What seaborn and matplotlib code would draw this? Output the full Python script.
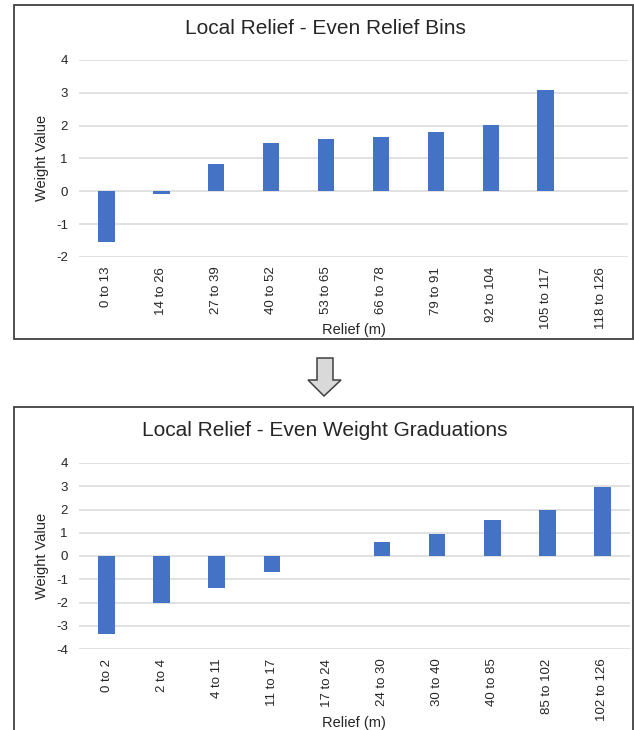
import numpy as np
import pandas as pd
import matplotlib
matplotlib.use("Agg")
import matplotlib.pyplot as plt
from matplotlib.patches import Rectangle, Polygon
import seaborn as sns

# ---- data ----
top_title = "Local Relief - Even Relief Bins"
top_bins = ["0 to 13", "14 to 26", "27 to 39", "40 to 52", "53 to 65",
            "66 to 78", "79 to 91", "92 to 104", "105 to 117", "118 to 126"]
top_weights = [-1.55, -0.08, 0.82, 1.47, 1.60, 1.65, 1.80, 2.02, 3.08, np.nan]
top_yticks = [-2, -1, 0, 1, 2, 3, 4]

bot_title = "Local Relief - Even Weight Graduations"
bot_bins = ["0 to 2", "2 to 4", "4 to 11", "11 to 17", "17 to 24",
            "24 to 30", "30 to 40", "40 to 85", "85 to 102", "102 to 126"]
bot_weights = [-3.35, -2.03, -1.38, -0.67, np.nan, 0.62, 0.93, 1.55, 2.00, 2.98]
bot_yticks = [-4, -3, -2, -1, 0, 1, 2, 3, 4]

x_label = "Relief (m)"
y_label = "Weight Value"

# ---- style ----
sns.set_theme(style="white")
plt.rcParams["font.family"] = ["Liberation Sans", "DejaVu Sans"]
BAR = "#4472C4"
GRID = "#d9d9d9"
TXT = "#262626"

W, H = 634, 730
fig = plt.figure(figsize=(W / 100, H / 100), dpi=100)
fig.patch.set_facecolor("white")


def fx(px):
    return px / W


def fy(py):
    return 1 - py / H


def axes_px(x0, x1, ytop, ybot):
    return fig.add_axes([fx(x0), fy(ybot), fx(x1) - fx(x0), (ybot - ytop) / H])


def draw_chart(ax, bins, weights, yticks):
    df = pd.DataFrame({"bin": bins, "w": weights})
    sns.barplot(data=df, x="bin", y="w", order=bins, color=BAR, saturation=1,
                width=0.3, linewidth=0, ax=ax, zorder=3)
    ax.set_ylim(min(yticks), max(yticks))
    ax.set_yticks(yticks)
    ax.set_yticklabels([str(t) for t in yticks])
    ax.set_xlim(-0.5, len(bins) - 0.5)
    ax.yaxis.grid(True, color=GRID, linewidth=1.1, zorder=0)
    ax.set_axisbelow(True)
    for s in ax.spines.values():
        s.set_visible(False)
    ax.tick_params(axis="y", length=0, pad=8, labelsize=9.5, labelcolor=TXT)
    ax.tick_params(axis="x", length=0, pad=7, labelsize=9.5, labelcolor=TXT,
                   labelrotation=90)
    ax.set_xlabel("")
    ax.set_ylabel("")
    ax.set_facecolor("white")


# top chart
ax1 = axes_px(79, 628, 60, 257)
draw_chart(ax1, top_bins, top_weights, top_yticks)
fig.text(fx(325), fy(28), top_title, ha="center", va="center", fontsize=15, color=TXT)
fig.text(fx(42), fy(158), y_label, ha="center", va="center", rotation=90,
         fontsize=10.5, color=TXT)
fig.text(fx(354), fy(330), x_label, ha="center", va="center", fontsize=10.5, color=TXT)

# bottom chart
ax2 = axes_px(79, 630, 463, 649)
draw_chart(ax2, bot_bins, bot_weights, bot_yticks)
fig.text(fx(325), fy(431), bot_title, ha="center", va="center", fontsize=15, color=TXT)
fig.text(fx(42), fy(556), y_label, ha="center", va="center", rotation=90,
         fontsize=10.5, color=TXT)
fig.text(fx(354), fy(723), x_label, ha="center", va="center", fontsize=10.5, color=TXT)

# frames
fig.patches.append(Rectangle((fx(13.5), fy(339)), fx(633) - fx(13.5), (339 - 5) / H,
                             transform=fig.transFigure, fill=False,
                             edgecolor="#404040", linewidth=1.3))
fig.patches.append(Rectangle((fx(13.5), fy(745)), fx(633) - fx(13.5), (745 - 407) / H,
                             transform=fig.transFigure, fill=False,
                             edgecolor="#404040", linewidth=1.3, clip_on=False))

# arrow
arrow_px = [(317, 358), (333, 358), (333, 380), (341, 380), (324, 396),
            (308, 380), (317, 380)]
fig.patches.append(Polygon([(fx(x), fy(y)) for x, y in arrow_px], closed=True,
                           transform=fig.transFigure, facecolor="#d9d9d9",
                           edgecolor="#404040", linewidth=1.1))

fig.savefig("out.png", dpi=100, facecolor="white")
